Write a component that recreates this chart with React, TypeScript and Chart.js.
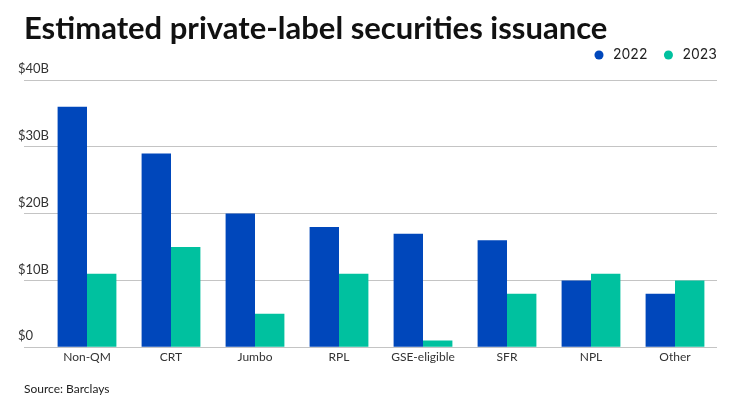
import React, { useEffect, useRef } from "react";
import { Chart, registerables } from "chart.js";

Chart.register(...registerables);

const categories = ["Non-QM", "CRT", "Jumbo", "RPL", "GSE-eligible", "SFR", "NPL", "Other"];
const values2022 = [36, 29, 20, 18, 17, 16, 10, 8];
const values2023 = [11, 15, 5, 11, 1, 8, 11, 10];
const yTickValues = [0, 10, 20, 30, 40];
const yTickLabels = ["$0", "$10B", "$20B", "$30B", "$40B"];
const titleText = "Estimated private-label securities issuance";
const sourceText = "Source: Barclays";

const legendGap = {
  id: "legendGap",
  beforeInit(chart: any) {
    const legend = chart.legend;
    if (!legend) return;
    const orig = legend.fit;
    legend.fit = function () {
      orig.call(this);
      this.height += 8;
    };
  },
};

export default function App() {
  const ref = useRef<HTMLCanvasElement | null>(null);
  useEffect(() => {
    if (!ref.current) return;
    const chart = new Chart(ref.current, {
      type: "bar",
      data: {
        labels: categories,
        datasets: [
          { label: "2022", data: values2022, backgroundColor: "#0047BB", borderWidth: 0 },
          { label: "2023", data: values2023, backgroundColor: "#00C19F", borderWidth: 0 },
        ],
      },
      plugins: [legendGap],
      options: {
        animation: false,
        responsive: true,
        maintainAspectRatio: false,
        layout: { padding: { left: 16, right: 1, top: 0, bottom: 0 } },
        datasets: { bar: { categoryPercentage: 0.7, barPercentage: 1.0 } },
        plugins: {
          title: {
            display: true,
            text: titleText,
            align: "start",
            color: "#111",
            font: { family: "Lato", size: 31, weight: "bold" },
            padding: { top: 2.4, bottom: -13.6 },
          },
          subtitle: {
            display: true,
            text: sourceText,
            position: "bottom",
            align: "start",
            color: "#222",
            font: { family: "Lato", size: 12 },
            padding: { top: 14, bottom: 12 },
          },
          legend: {
            position: "top",
            align: "end",
            labels: {
              usePointStyle: true,
              pointStyle: "circle",
              boxWidth: 14,
              boxHeight: 6.4,
              color: "#222",
              font: { family: "Inter", size: 14 },
              padding: 14,
            },
          },
          tooltip: { enabled: false },
        },
        scales: {
          x: {
            grid: { display: false, drawTicks: false },
            border: { display: false },
            ticks: { color: "#333", font: { family: "Lato", size: 12 }, padding: 3 },
          },
          y: {
            min: 0,
            max: 40,
            afterFit: (s: any) => {
              s.width = 21;
            },
            afterBuildTicks: (s: any) => {
              s.ticks = yTickValues.map((v) => ({ value: v }));
            },
            grid: { color: "#c4c4c4", tickLength: 21, drawTicks: true, lineWidth: 1 },
            border: { display: false },
            ticks: {
              mirror: true,
              padding: -27,
              labelOffset: -11,
              color: "#333",
              font: { family: "Lato", size: 13 },
              callback: (v: any) => {
                const i = yTickValues.indexOf(Number(v));
                return i >= 0 ? yTickLabels[i] : "";
              },
            },
          },
          yRight: {
            position: "right",
            display: true,
            grid: { display: false, drawTicks: false },
            border: { display: false },
            ticks: { display: false },
            afterFit: (s: any) => {
              s.width = 14;
            },
          },
        },
      },
    });
    return () => chart.destroy();
  }, []);
  return (
    <div style={{ width: 724, height: 400 }}>
      <canvas ref={ref} />
    </div>
  );
}
